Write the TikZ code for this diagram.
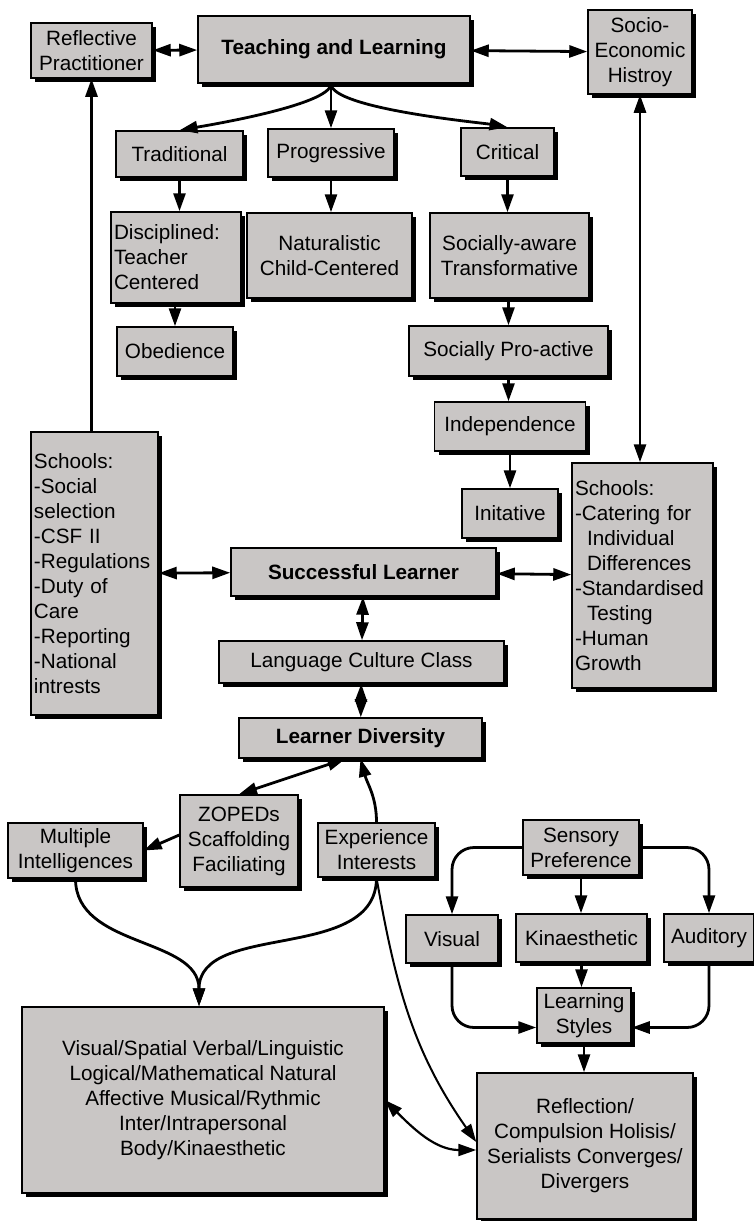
\documentclass[tikz,border=0pt]{standalone}
\usepackage{fontspec}
\setmainfont{Liberation Sans}
\usepackage{xcolor}
\usepackage{tikz}
\usetikzlibrary{arrows.meta, positioning, shadows}
\definecolor{boxgray}{RGB}{201,198,197}

\begin{document}
\begin{tikzpicture}[->,>={Triangle[length=18pt,width=12pt]},x=1pt,y=1pt,
  line width=2.8pt,
  main node/.style={draw,line width=1.5pt,fill=boxgray,inner sep=3pt,align=center,
    font=\fontsize{20.7}{25}\selectfont,
    drop shadow={shadow xshift=4pt,shadow yshift=-4pt,fill=black,opacity=1}},
  bold node/.style={main node,font=\fontsize{20.7}{25}\selectfont\bfseries},
  list node/.style={main node,align=left}]

  \useasboundingbox (0,0) rectangle (753,-1221);

  % top row
  \node[main node,minimum width=121pt,minimum height=55pt] (rp) at (91.5,-50.5) {Reflective\\Practitioner};
  \node[bold node,minimum width=272pt,minimum height=67pt] (tl) at (334,-49.5) {Teaching and Learning};
  \node[main node,minimum width=104pt,minimum height=84pt] (se) at (640,-52) {Socio-\\Economic\\Histroy};

  % three traditions
  \node[main node,minimum width=127pt,minimum height=46pt] (trad) at (179.5,-154) {Traditional};
  \node[main node,minimum width=126pt,minimum height=48pt] (prog) at (331,-153) {Progressive};
  \node[main node,minimum width=93pt,minimum height=48pt] (crit) at (507.5,-152) {Critical};
  \node[list node,text width=124pt,minimum height=91pt] (disc) at (176,-257.5) {Disciplined:\\Teacher\\Centered};
  \node[main node,minimum width=165pt,minimum height=85pt] (nat) at (329.5,-255.5) {Naturalistic\\Child-Centered};
  \node[main node,minimum width=159pt,minimum height=85pt] (sat) at (509.5,-255.5) {Socially-aware\\Transformative};
  \node[main node,minimum width=116pt,minimum height=49pt] (obed) at (175,-351.5) {Obedience};
  \node[main node,minimum width=199pt,minimum height=50pt] (spa) at (508.5,-351) {Socially Pro-active};
  \node[main node,minimum width=151pt,minimum height=49pt] (indep) at (510,-426.5) {Independence};
  \node[main node,minimum width=96pt,minimum height=49pt] (init) at (510,-513.5) {Initative};

  % schools and learner
  \node[list node,text width=121pt,minimum height=283pt] (schl) at (94.5,-573.5)
    {Schools:\\-Social\\selection\\-CSF II\\-Regulations\\-Duty of\\Care\\-Reporting\\-National\\intrests};
  \node[list node,text width=135pt,minimum height=225pt] (schr) at (642.5,-575.5)
    {Schools:\\-Catering for\\\hspace*{12pt}Individual\\\hspace*{12pt}Differences\\-Standardised\\\hspace*{12pt}Testing\\-Human\\Growth};
  \node[bold node,minimum width=265pt,minimum height=48pt] (sl) at (363.5,-572) {Successful Learner};
  \node[main node,minimum width=285pt,minimum height=42pt] (lcc) at (361.5,-662) {Language Culture Class};
  \node[bold node,minimum width=243pt,minimum height=40pt] (ld) at (360.5,-738) {Learner Diversity};

  % diversity
  \node[main node,minimum width=118pt,minimum height=92pt] (zop) at (239,-841) {ZOPEDs\\Scaffolding\\Faciliating};
  \node[main node,minimum width=135pt,minimum height=55pt] (mi) at (75.5,-850.5) {Multiple\\Intelligences};
  \node[main node,minimum width=117pt,minimum height=54pt] (ei) at (376.5,-850) {Experience\\Interests};
  \node[main node,minimum width=116pt,minimum height=55pt] (sp) at (581,-847.5) {Sensory\\Preference};
  \node[main node,minimum width=92pt,minimum height=48pt] (vis) at (452,-939) {Visual};
  \node[main node,minimum width=131pt,minimum height=48pt] (kin) at (581.5,-938) {Kinaesthetic};
  \node[main node,minimum width=90pt,minimum height=48pt] (aud) at (709,-938) {Auditory};
  \node[main node,minimum width=94pt,minimum height=55pt] (ls) at (584,-1015.5) {Learning\\Styles};
  \node[main node,minimum width=362pt,minimum height=186pt] (vsb) at (203,-1100)
    {Visual/Spatial Verbal/Linguistic\\Logical/Mathematical Natural\\Affective Musical/Rythmic\\Inter/Intrapersonal\\Body/Kinaesthetic};
  \node[main node,minimum width=216pt,minimum height=146pt] (refl) at (585,-1146)
    {Reflection/\\Compulsion Holisis/\\Serialists Converges/\\Divergers};

  \coordinate (fork) at (prog.north |- tl.south);

  \path
    (rp) edge[<->] (tl)
    (tl) edge[<->] (se)
    (fork) edge[out=-90,in=10,looseness=0.35] (trad.north)
    (fork) edge (prog.north)
    (fork) edge[out=-90,in=170,looseness=0.35] (crit.north)
    (trad.south) edge (trad.south |- disc.north)
    (prog.south) edge (prog.south |- nat.north)
    (crit.south) edge (crit.south |- sat.north)
    (obed.north |- disc.south) edge (obed.north)
    (spa.north |- sat.south) edge (spa.north)
    (spa.south) edge (spa.south |- indep.north)
    (indep.south) edge (indep.south |- init.north)
    (rp.south |- schl.north) edge (rp.south)
    (se.south) edge[<->] (se.south |- schr.north)
    (schl) edge[<->] (sl)
    (sl) edge[<->] (schr)
    (sl) edge[<->] (lcc)
    (lcc) edge[<->] (ld)
    ([xshift=-15pt]ld.south) edge[<->] (zop.north)
    ([yshift=6pt]zop.west) edge (mi.east)
    (ei.north) edge[out=90,in=-75] (ld.south)
    (mi.south) edge[out=-90,in=90] ([xshift=-4pt]vsb.north)
    (ei.south) edge[out=-90,in=90] ([xshift=-4pt]vsb.north)
    (ei.south) edge[out=-80,in=125,line width=2pt] ([yshift=4pt]refl.west)
    (vsb.east) edge[<->,out=-45,in=180,line width=2.2pt] ([yshift=-4pt]refl.west)
    (sp.south) edge (sp.south |- kin.north)
    (kin.south) edge (kin.south |- ls.north)
    (ls.south) edge (ls.south |- refl.north);

  \draw[rounded corners=22pt] (sp.west) -| (vis.north);
  \draw[rounded corners=22pt] (sp.east) -| (aud.north);
  \draw[rounded corners=22pt] (vis.south) |- ([yshift=-12pt]ls.west);
  \draw[rounded corners=22pt] (aud.south) |- ([yshift=-12pt]ls.east);
\end{tikzpicture}
\end{document}
